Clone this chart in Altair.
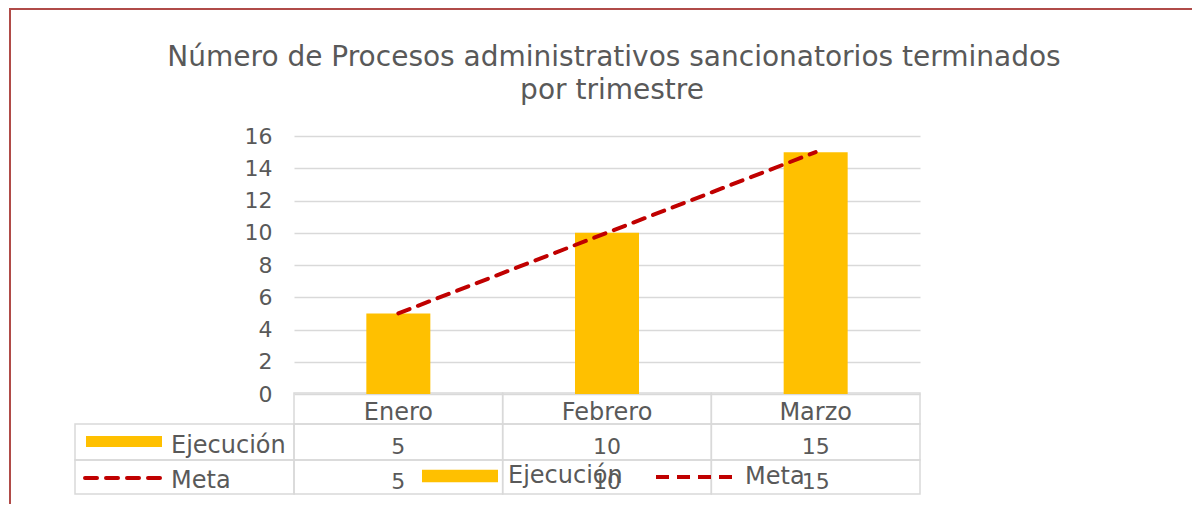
import altair as alt
import pandas as pd

# ---- data ----
meses = ["Enero", "Febrero", "Marzo"]
ejecucion = [5, 10, 15]
meta = [5, 10, 15]
y_ticks = [0, 2, 4, 6, 8, 10, 12, 14, 16]
titulo = ["Número de Procesos administrativos sancionatorios terminados", "por trimestre"]

bars_df = pd.DataFrame({"mes": meses, "valor": ejecucion, "serie": ["Ejecución"] * 3})
line_df = pd.DataFrame({"mes": meses, "valor": meta, "serie": ["Meta"] * 3})
one_df = pd.DataFrame({"k": [0]})
title_df = pd.DataFrame({"linea": [0, 1], "texto": titulo})

FONT = "DejaVu Sans"
GREY = "#595959"
GRID = "#D9D9D9"
YELLOW = "#FFC000"
RED = "#C00000"

x_axis = alt.Axis(
    title=None, labelAngle=0, labelAlign="center", domain=False, ticks=False,
    tickSize=0, labelPadding=25, labelBaseline="alphabetic", labelFont=FONT,
    labelFontSize=24, labelColor=GREY, grid=False,
)
y_axis = alt.Axis(
    title=None, values=y_ticks, labelOverlap=False, domain=False, ticks=False,
    tickSize=0, labelPadding=22, labelFont=FONT, labelFontSize=22,
    labelColor=GREY, gridColor=GRID, gridWidth=1.5,
)
x_scale = alt.Scale(paddingInner=0, paddingOuter=0)
y_scale = alt.Scale(domain=[0, 16], nice=False)


def xe():
    return alt.X("mes:N", sort=meses, scale=x_scale, axis=x_axis)


def ye():
    return alt.Y("valor:Q", scale=y_scale, axis=y_axis)


bars = alt.Chart(bars_df).mark_bar(width=64).encode(
    x=xe(),
    y=ye(),
    fill=alt.Fill(
        "serie:N",
        scale=alt.Scale(domain=["Ejecución"], range=[YELLOW]),
        legend=alt.Legend(
            orient="none", legendX=128, legendY=302, title=None, padding=0,
            symbolType="M-1,-0.166H1V0.166H-1Z", symbolSize=5776,
            symbolStrokeWidth=0, labelOffset=10, labelFont=FONT,
            labelFontSize=24, labelColor=GREY,
        ),
    ),
)

line = alt.Chart(line_df).mark_line(strokeDash=[12, 9], strokeCap="round", strokeWidth=4).encode(
    x=xe(),
    y=ye(),
    stroke=alt.Stroke(
        "serie:N",
        scale=alt.Scale(domain=["Meta"], range=[RED]),
        legend=alt.Legend(
            orient="none", legendX=360, legendY=299, title=None, padding=0,
            symbolType="M-1,0H1", symbolSize=6400, symbolStrokeWidth=4,
            symbolDash=[13, 8], labelOffset=7, labelFont=FONT,
            labelFontSize=24, labelColor=GREY,
        ),
    ),
)

# ---- data table below the plot ----
cell = dict(fill=None, stroke=GRID, strokeWidth=1.5)
hdr_cells = alt.Chart(bars_df).mark_rect(**cell).encode(
    x=xe(), y=alt.value(257), y2=alt.value(288))
ej_cells = alt.Chart(bars_df).mark_rect(**cell).encode(
    x=xe(), y=alt.value(288), y2=alt.value(324))
me_cells = alt.Chart(line_df).mark_rect(**cell).encode(
    x=xe(), y=alt.value(324), y2=alt.value(358))
left_ej = alt.Chart(one_df).mark_rect(**cell).encode(
    x=alt.value(-219), x2=alt.value(0), y=alt.value(288), y2=alt.value(324))
left_me = alt.Chart(one_df).mark_rect(**cell).encode(
    x=alt.value(-219), x2=alt.value(0), y=alt.value(324), y2=alt.value(358))

key_ej = alt.Chart(one_df).mark_rect(color=YELLOW).encode(
    x=alt.value(-208), x2=alt.value(-132), y=alt.value(300), y2=alt.value(311))
key_me = alt.Chart(one_df).mark_rule(color=RED, strokeWidth=4, strokeDash=[12, 9], strokeCap="round").encode(
    x=alt.value(-209), x2=alt.value(-133), y=alt.value(342))

lbl_ej = alt.Chart(one_df).mark_text(
    text="Ejecución", align="left", baseline="alphabetic", font=FONT, fontSize=24, color=GREY
).encode(x=alt.value(-123), y=alt.value(317))
lbl_me = alt.Chart(one_df).mark_text(
    text="Meta", align="left", baseline="alphabetic", font=FONT, fontSize=24, color=GREY
).encode(x=alt.value(-123), y=alt.value(352))

val_ej = alt.Chart(bars_df).mark_text(
    align="center", baseline="alphabetic", font=FONT, fontSize=22, color=GREY
).encode(x=xe(), y=alt.value(318), text="valor:Q")
val_me = alt.Chart(line_df).mark_text(
    align="center", baseline="alphabetic", font=FONT, fontSize=22, color=GREY
).encode(x=xe(), y=alt.value(353), text="valor:Q")

# ---- title (two centred lines) ----
title1 = alt.Chart(title_df).transform_filter("datum.linea == 0").mark_text(
    align="center", baseline="alphabetic", font=FONT, fontSize=28, color=GREY
).encode(x=alt.value(320), y=alt.value(-70), text="texto:N")
title2 = alt.Chart(title_df).transform_filter("datum.linea == 1").mark_text(
    align="center", baseline="alphabetic", font=FONT, fontSize=28, color=GREY
).encode(x=alt.value(318), y=alt.value(-37), text="texto:N")

frame = alt.Chart(one_df).mark_rect(fill=None, stroke="#B04B48", strokeWidth=2).encode(
    x=alt.value(-284), x2=alt.value(1000), y=alt.value(-127), y2=alt.value(420))

chart = alt.layer(
    frame, hdr_cells, ej_cells, me_cells, left_ej, left_me,
    bars, line, key_ej, key_me, lbl_ej, lbl_me, val_ej, val_me, title1, title2,
).resolve_scale(fill="independent", stroke="independent").properties(
    width=626,
    height=258,
    autosize=alt.AutoSizeParams(type="none"),
    padding={"left": 286, "top": 128, "right": 272, "bottom": 110},
    background="white",
).configure_view(strokeOpacity=0)

chart.save("out.html", embed_options={"renderer": "svg", "actions": False})
